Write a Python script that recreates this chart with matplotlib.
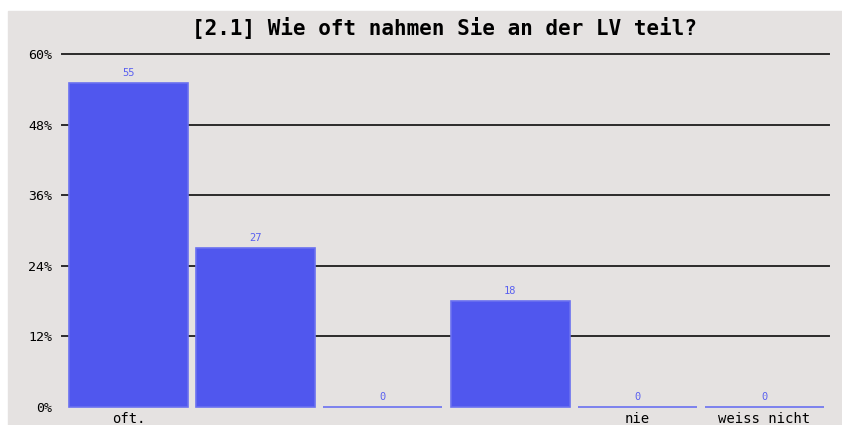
import matplotlib
matplotlib.use("Agg")
import matplotlib.pyplot as plt
from matplotlib.patches import Rectangle

title = "[2.1] Wie oft nahmen Sie an der LV teil?"
categories = ["oft.", "", "", "", "nie", "weiss nicht"]
values = [55, 27, 0, 18, 0, 0]
yticks = [0, 12, 24, 36, 48, 60]

bg_color = "#e5e2e1"
bar_color = "#5057ee"
edge_color = "#6a70f0"
label_color = "#5a60f0"
mono = "DejaVu Sans Mono"

fig = plt.figure(figsize=(8.42, 4.25), dpi=100)
fig.patch.set_facecolor("white")
bg = Rectangle((8 / 842, 0), 1, (425 - 11) / 425,
               transform=fig.transFigure, color=bg_color, zorder=-10)
fig.add_artist(bg)

ax = fig.add_axes([62 / 842, 18 / 425, 767 / 842, 353 / 425])
ax.set_zorder(1)
ax.set_facecolor("none")

x = list(range(len(values)))
bars = ax.bar(x, values, width=0.936, color=bar_color, edgecolor=edge_color,
              linewidth=1.2, zorder=3)
for b in bars:
    b.set_clip_on(False)
for xi, v in zip(x, values):
    ax.text(xi, v + 0.9, str(v), ha="center", va="bottom", fontsize=7.5,
            family=mono, color=label_color, zorder=4)

ax.set_xlim(-0.523, 5.507)
ax.set_ylim(0, 60)

for t in yticks[1:]:
    ax.axhline(t, color="#2b2b2b", lw=1.4, zorder=1, clip_on=False)

ax.set_yticks(yticks)
ax.set_yticklabels(["%d%%" % t for t in yticks], family=mono, fontsize=9.5)
ax.set_xticks(x)
ax.set_xticklabels(categories, family=mono, fontsize=10)
ax.tick_params(axis="both", length=0)
ax.tick_params(axis="y", pad=7)
ax.tick_params(axis="x", pad=3.5)
for s in ax.spines.values():
    s.set_visible(False)

fig.text(445 / 842, 1 - 28 / 425, title, ha="center", va="center",
         family=mono, fontweight="bold", fontsize=15)

fig.savefig("out.png", dpi=100, facecolor=fig.get_facecolor())
